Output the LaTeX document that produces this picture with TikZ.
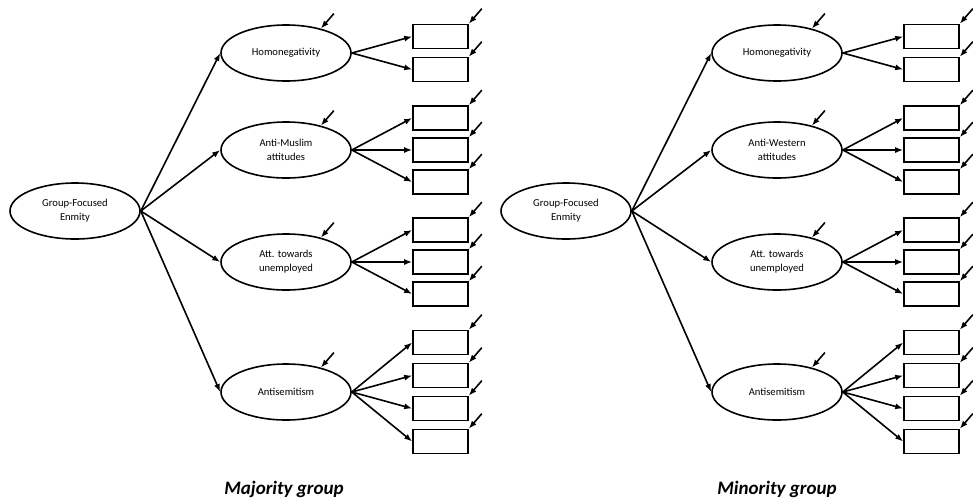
\documentclass[tikz,border=0pt]{standalone}
\usepackage{fontspec}
\setmainfont{Carlito}
\usetikzlibrary{shapes,arrows.meta,calc,positioning}
\tikzstyle{arrow} = [draw, -{Latex[length=8pt, width=6pt]}]
\tikzstyle{latent} = [ellipse, draw, inner sep=0pt, minimum width=130pt, minimum height=56pt, align=center, font={\fontsize{10.6}{14}\selectfont}]
\tikzstyle{indicator} = [rectangle, draw, inner sep=0pt, minimum width=55pt, minimum height=24pt]
\tikzstyle{grouplabel} = [inner sep=0pt, font={\fontsize{19}{21}\selectfont\bfseries\itshape}]

\begin{document}
\begin{tikzpicture}[
      x = 1pt,
      y = -1pt,
      line width = 1.6pt
    ]
      \useasboundingbox (0,0) rectangle (973,499);

      % majority group
      \node[latent] (gfeMaj)  at (75,211)  {Group-Focused\\Enmity};
      \node[latent] (homMaj)  at (286,53)  {Homonegativity};
      \node[latent] (amuMaj)  at (286,150) {Anti-Muslim\\attitudes};
      \node[latent] (unemMaj) at (286,262) {Att. towards\\unemployed};
      \node[latent] (semMaj)  at (286,392) {Antisemitism};
      \node[grouplabel] (titleMaj) at (284,489) {Majority group};

      \foreach \n/\y in {1/36.5, 2/69.5}
        \node[indicator] (homMaj\n) at (440.5,\y) {};
      \foreach \n/\y in {1/118, 2/150, 3/182}
        \node[indicator] (amuMaj\n) at (440.5,\y) {};
      \foreach \n/\y in {1/230, 2/262, 3/294}
        \node[indicator] (unemMaj\n) at (440.5,\y) {};
      \foreach \n/\y in {1/342.5, 2/375.5, 3/408.5, 4/441.5}
        \node[indicator] (semMaj\n) at (440.5,\y) {};

      \foreach \v in {homMaj, amuMaj, unemMaj, semMaj}
        \draw[arrow] (gfeMaj.east) -- (\v.west);
      \foreach \v/\k in {homMaj/2, amuMaj/3, unemMaj/3, semMaj/4}
        \foreach \n in {1,...,\k} {
          \draw[arrow] (\v.east) -- (\v\n.west);
          \coordinate (\v\n Err) at ([shift={(13pt,15pt)}]\v\n.north east);
          \draw[arrow] (\v\n Err) -- (\v\n.north east);
        }
      \foreach \v in {homMaj, amuMaj, unemMaj, semMaj} {
        \coordinate (\v Err) at ([shift={(13pt,15pt)}]\v.35);
        \draw[arrow] (\v Err) -- (\v.35);
      }

      % minority group
      \begin{scope}[xshift=491pt]
      \node[latent] (gfeMin)  at (75,211)  {Group-Focused\\Enmity};
      \node[latent] (homMin)  at (286,53)  {Homonegativity};
      \node[latent] (awsMin)  at (286,150) {Anti-Western\\attitudes};
      \node[latent] (unemMin) at (286,262) {Att. towards\\unemployed};
      \node[latent] (semMin)  at (286,392) {Antisemitism};
      \node[grouplabel] (titleMin) at (286,489) {Minority group};

      \foreach \n/\y in {1/36.5, 2/69.5}
        \node[indicator] (homMin\n) at (440.5,\y) {};
      \foreach \n/\y in {1/118, 2/150, 3/182}
        \node[indicator] (awsMin\n) at (440.5,\y) {};
      \foreach \n/\y in {1/230, 2/262, 3/294}
        \node[indicator] (unemMin\n) at (440.5,\y) {};
      \foreach \n/\y in {1/342.5, 2/375.5, 3/408.5, 4/441.5}
        \node[indicator] (semMin\n) at (440.5,\y) {};

      \foreach \v in {homMin, awsMin, unemMin, semMin}
        \draw[arrow] (gfeMin.east) -- (\v.west);
      \foreach \v/\k in {homMin/2, awsMin/3, unemMin/3, semMin/4}
        \foreach \n in {1,...,\k} {
          \draw[arrow] (\v.east) -- (\v\n.west);
          \coordinate (\v\n Err) at ([shift={(13pt,15pt)}]\v\n.north east);
          \draw[arrow] (\v\n Err) -- (\v\n.north east);
        }
      \foreach \v in {homMin, awsMin, unemMin, semMin} {
        \coordinate (\v Err) at ([shift={(13pt,15pt)}]\v.35);
        \draw[arrow] (\v Err) -- (\v.35);
      }
      \end{scope}
    \end{tikzpicture}
\end{document}
